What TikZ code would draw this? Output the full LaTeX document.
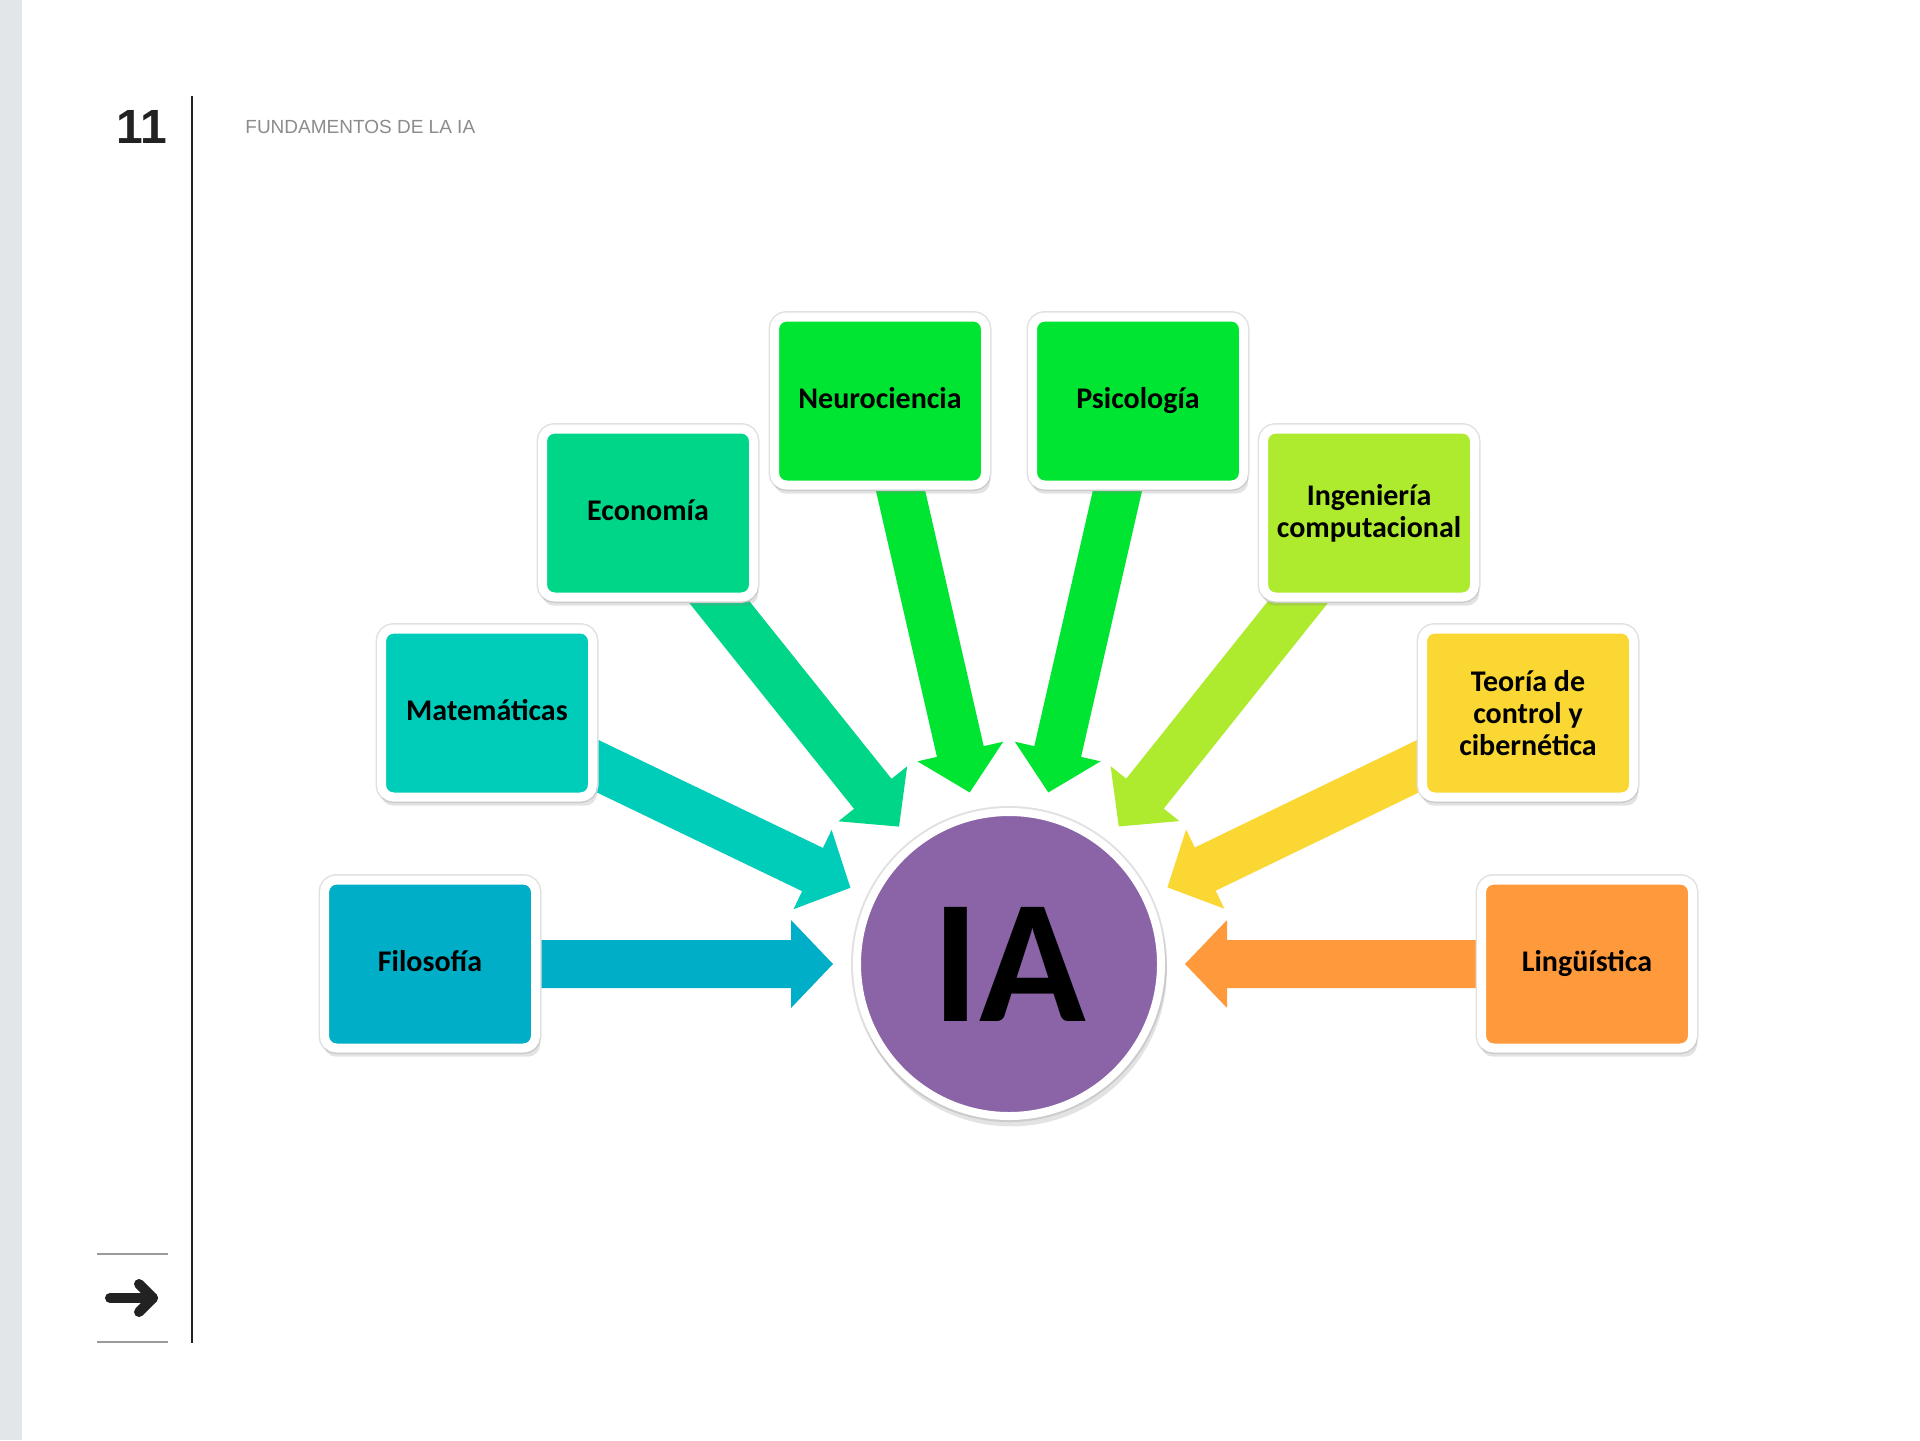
\documentclass[tikz,border=0pt]{standalone}
\usepackage{fontspec}
\setmainfont{Liberation Sans}
\newfontfamily\carlito{Carlito}
\usetikzlibrary{calc,shadows,backgrounds}
\definecolor{cFil}{RGB}{0,174,199}
\definecolor{cMat}{RGB}{0,205,185}
\definecolor{cEco}{RGB}{0,214,135}
\definecolor{cNeu}{RGB}{0,229,50}
\definecolor{cIng}{RGB}{174,234,46}
\definecolor{cTeo}{RGB}{250,215,51}
\definecolor{cLin}{RGB}{255,154,60}
\definecolor{cIA}{RGB}{138,100,166}
\definecolor{cStrip}{RGB}{226,230,233}
\definecolor{cDark}{RGB}{34,34,34}
\definecolor{cHead}{RGB}{140,140,140}
\definecolor{cRule}{RGB}{155,155,155}
\definecolor{cEdge}{RGB}{225,225,225}
\newcommand\feedarrow[2]{%
  \coordinate (#1-tip) at ($(IA.center)!88pt!(#1.center)$);
  \coordinate (#1-neck) at ($(#1-tip)!21pt!(#1.center)$);
  \fill[#2] ($(#1.center)!12pt!90:(#1-tip)$)
    -- ($(#1-neck)!12pt!90:(#1-tip)$)
    -- ($(#1-neck)!22pt!90:(#1-tip)$)
    -- (#1-tip)
    -- ($(#1-neck)!22pt!-90:(#1-tip)$)
    -- ($(#1-neck)!12pt!-90:(#1-tip)$)
    -- ($(#1.center)!12pt!-90:(#1-tip)$) -- cycle;}
\begin{document}
\begin{tikzpicture}[x=0.5pt,y=-0.5pt,
  framed/.style={draw=white, line width=4.5pt,
    preaction={draw=cEdge, line width=6pt},
    drop shadow={shadow xshift=1pt, shadow yshift=-3.2pt, shadow scale=1.025, opacity=0.22}},
  topic/.style={rectangle, rounded corners=6pt, framed,
    minimum width=105.5pt, minimum height=84pt, align=center, inner sep=2pt,
    font=\carlito\bfseries\fontsize{15}{16}\selectfont, text=black},
  oneline/.style={text height=10.5pt, text depth=3.2pt},
  hub/.style={circle, framed, line width=4pt, minimum size=152pt, inner sep=0pt,
    fill=cIA, font=\carlito\bfseries\fontsize{88}{88}\selectfont, text=black},
  rule/.style={draw=cRule, line width=1pt}]
\useasboundingbox (0,0) rectangle (1920,1440);
\begin{pgfonlayer}{background}
  \fill[white] (0,0) rectangle (1920,1440);
  \fill[cStrip] (0,0) rectangle (22,1440);
\end{pgfonlayer}
% header
\node[font=\bfseries\fontsize{24}{24}\selectfont, text=cDark, inner sep=0pt] (pagenum) at (142,127) {11};
\node[font=\fontsize{9.5}{10}\selectfont, text=cHead, anchor=west, inner sep=0pt] (title) at (245,127) {FUNDAMENTOS DE LA IA};
\draw[cDark, line width=1pt] (192,96) -- (192,1343);
\draw[rule] (97,1254) -- (168,1254);
\draw[rule] (97,1342) -- (168,1342);
\draw[cDark, line width=5pt, line cap=round, line join=round] (110,1298) -- (153,1298);
\draw[cDark, line width=5pt, line cap=round, line join=round] (139,1284) -- (153,1298) -- (139,1312);
% nodes
\node[hub] (IA) at (1009,964) {IA};
\node[topic, oneline, fill=cFil] (fil) at (430,964) {Filosofía};
\node[topic, oneline, fill=cMat] (mat) at (487,713) {Matemáticas};
\node[topic, oneline, fill=cEco] (eco) at (648,513) {Economía};
\node[topic, oneline, fill=cNeu] (neu) at (880,401) {Neurociencia};
\node[topic, oneline, fill=cNeu] (psi) at (1138,401) {Psicología};
\node[topic, fill=cIng] (ing) at (1369,513) {Ingeniería\\computacional};
\node[topic, fill=cTeo] (teo) at (1528,713) {Teoría de\\control y\\cibernética};
\node[topic, oneline, fill=cLin] (lin) at (1587,964) {Lingüística};
% arrows
\begin{pgfonlayer}{background}
  \feedarrow{fil}{cFil}
  \feedarrow{mat}{cMat}
  \feedarrow{eco}{cEco}
  \feedarrow{neu}{cNeu}
  \feedarrow{psi}{cNeu}
  \feedarrow{ing}{cIng}
  \feedarrow{teo}{cTeo}
  \feedarrow{lin}{cLin}
\end{pgfonlayer}
\end{tikzpicture}
\end{document}
